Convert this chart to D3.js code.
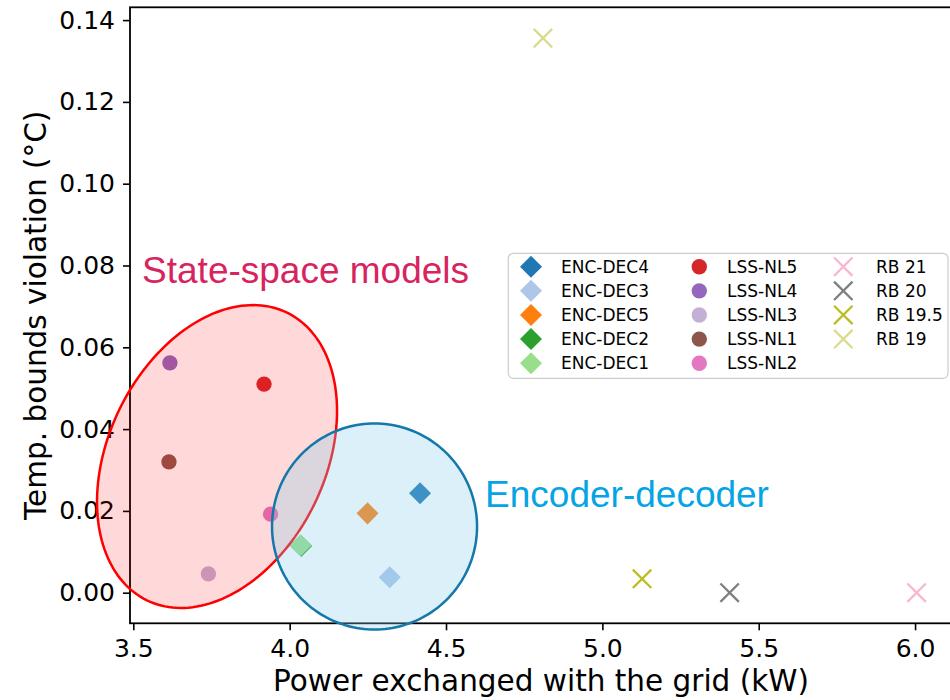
<!DOCTYPE html>
<html>
<head>
<meta charset="utf-8">
<script src="https://cdn.jsdelivr.net/npm/d3@7"></script>
<style>
  body { margin: 0; background: #fff; }
  svg { display: block; }
</style>
</head>
<body>
<div id="my_dataviz"></div>
<script>
// --- data ---
var encNames = ["ENC-DEC4", "ENC-DEC3", "ENC-DEC5", "ENC-DEC2", "ENC-DEC1"];
var encPower = [4.417, 4.320, 4.249, 4.037, 4.035];
var encViolation = [0.0243, 0.0038, 0.0194, 0.0114, 0.0116];

var lssNames = ["LSS-NL5", "LSS-NL4", "LSS-NL3", "LSS-NL1", "LSS-NL2"];
var lssPower = [3.918, 3.617, 3.740, 3.614, 3.939];
var lssViolation = [0.0510, 0.0562, 0.0046, 0.0320, 0.0192];

var rbNames = ["RB 21", "RB 20", "RB 19.5", "RB 19"];
var rbPower = [6.005, 5.407, 5.127, 4.810];
var rbViolation = [0.0000, 0.0000, 0.0034, 0.1356];

var xTicks = [3.5, 4.0, 4.5, 5.0, 5.5, 6.0];
var yTicks = [0.00, 0.02, 0.04, 0.06, 0.08, 0.10, 0.12, 0.14];

// colours (tab20)
var encColors = ["#1f77b4", "#aec7e8", "#ff7f0e", "#2ca02c", "#98df8a"];
var lssColors = ["#d62728", "#9467bd", "#c5b0d5", "#8c564b", "#e377c2"];
var rbColors = ["#f7b6d2", "#7f7f7f", "#bcbd22", "#dbdb8d"];

// group outlines (data units): centre + two semi-axis vectors
var ssmCenter = [3.7677, 0.0333], ssmU = [0.2242, 0.03516], ssmV = [-0.3115, 0.01161];
var edCenter = [4.2714, 0.01619], edU = [0.3278, 0], edV = [0, 0.02518];

var width = 950, height = 700;
var margin = {top: 7.3, left: 130, bottom: 623.3, right: 952};

var svg = d3.select("#my_dataviz").append("svg")
    .attr("width", width)
    .attr("height", height);

var x = d3.scaleLinear()
    .domain([3.4894, 6.1181])
    .range([margin.left, margin.right]);

var y = d3.scaleLinear()
    .domain([-0.00748, 0.14313])
    .range([margin.bottom, margin.top]);

var font = "DejaVu Sans, sans-serif";

// axes
var xAxis = svg.append("g")
    .attr("transform", `translate(0,${margin.bottom})`)
    .call(d3.axisBottom(x).tickValues(xTicks).tickFormat(d3.format(".1f")).tickSize(7).tickPadding(9));
var yAxis = svg.append("g")
    .attr("transform", `translate(${margin.left},0)`)
    .call(d3.axisLeft(y).tickValues(yTicks).tickFormat(d3.format(".2f")).tickSize(7).tickPadding(8));

[xAxis, yAxis].forEach(function(a) {
    a.select(".domain").remove();
    a.selectAll("line").attr("stroke", "#000").attr("stroke-width", 1.6);
    a.selectAll("text").attr("font-family", font).attr("font-size", "25px").attr("fill", "#000");
});

svg.append("rect")
    .attr("x", margin.left)
    .attr("y", margin.top)
    .attr("width", margin.right - margin.left)
    .attr("height", margin.bottom - margin.top)
    .attr("fill", "none")
    .attr("stroke", "#000")
    .attr("stroke-width", 1.8);

svg.append("text")
    .attr("x", (margin.left + margin.right) / 2)
    .attr("y", 690.7)
    .attr("text-anchor", "middle")
    .attr("font-family", font)
    .attr("font-size", "29.5px")
    .text("Power exchanged with the grid (kW)");

svg.append("text")
    .attr("transform", `translate(46,${(margin.top + margin.bottom) / 2}) rotate(-90)`)
    .attr("text-anchor", "middle")
    .attr("font-family", font)
    .attr("font-size", "29.5px")
    .text("Temp. bounds violation (°C)");

// markers
var crossType = {
    draw: function(context, size) {
        var r = Math.sqrt(size) * 0.6189;
        context.moveTo(-r, -r); context.lineTo(r, r);
        context.moveTo(-r, r); context.lineTo(r, -r);
    }
};
var diamond = d3.symbol().type(d3.symbolSquare).size(243);
var dot = d3.symbol().type(d3.symbolCircle).size(186);
var cross = d3.symbol().type(crossType).size(222);

var pts = svg.append("g");

pts.selectAll(".enc")
    .data(encNames)
    .join("path")
    .attr("class", "enc")
    .attr("d", diamond)
    .attr("fill", function(d, i) { return encColors[i]; })
    .attr("transform", function(d, i) { return `translate(${x(encPower[i])},${y(encViolation[i])}) rotate(45)`; });

pts.selectAll(".lss")
    .data(lssNames)
    .join("path")
    .attr("class", "lss")
    .attr("d", dot)
    .attr("fill", function(d, i) { return lssColors[i]; })
    .attr("transform", function(d, i) { return `translate(${x(lssPower[i])},${y(lssViolation[i])})`; });

pts.selectAll(".rb")
    .data(rbNames)
    .join("path")
    .attr("class", "rb")
    .attr("d", cross)
    .attr("fill", "none")
    .attr("stroke", function(d, i) { return rbColors[i]; })
    .attr("stroke-width", 2.3)
    .attr("transform", function(d, i) { return `translate(${x(rbPower[i])},${y(rbViolation[i])})`; });

// legend
var legend = svg.append("g");
legend.append("rect")
    .attr("x", 508.3).attr("y", 253.3)
    .attr("width", 439.7).attr("height", 125)
    .attr("rx", 5)
    .attr("fill", "#fff").attr("fill-opacity", 0.8)
    .attr("stroke", "#cccccc").attr("stroke-width", 1.2);

var legendCols = [
    {names: encNames, colors: encColors, shape: diamond, rot: 45, filled: true, mx: 531, tx: 561},
    {names: lssNames, colors: lssColors, shape: dot, rot: 0, filled: true, mx: 699.3, tx: 727},
    {names: rbNames, colors: rbColors, shape: cross, rot: 0, filled: false, mx: 843.3, tx: 876}
];
var rowY = d3.scaleLinear().domain([0, 4]).range([266.7, 363.2]);

legendCols.forEach(function(col) {
    var g = legend.append("g");
    g.selectAll("path")
        .data(col.names)
        .join("path")
        .attr("d", col.shape)
        .attr("fill", function(d, i) { return col.filled ? col.colors[i] : "none"; })
        .attr("stroke", function(d, i) { return col.filled ? "none" : col.colors[i]; })
        .attr("stroke-width", 2.3)
        .attr("transform", function(d, i) { return `translate(${col.mx},${rowY(i)}) rotate(${col.rot})`; });
    g.selectAll("text")
        .data(col.names)
        .join("text")
        .attr("x", col.tx)
        .attr("y", function(d, i) { return rowY(i) + 6.2; })
        .attr("font-family", font)
        .attr("font-size", "17px")
        .text(function(d) { return d; });
});

// group outlines drawn on top
function ellipsePath(c, u, v) {
    var pts = d3.range(0, 181).map(function(k) {
        var t = k / 180 * 2 * Math.PI;
        return [x(c[0] + u[0] * Math.cos(t) + v[0] * Math.sin(t)),
                y(c[1] + u[1] * Math.cos(t) + v[1] * Math.sin(t))];
    });
    return d3.line()(pts) + "Z";
}

svg.append("path")
    .attr("d", ellipsePath(ssmCenter, ssmU, ssmV))
    .attr("fill", "rgba(255,0,0,0.15)")
    .attr("stroke", "#ff0000")
    .attr("stroke-width", 2.5);

svg.append("path")
    .attr("d", ellipsePath(edCenter, edU, edV))
    .attr("fill", "rgba(135,206,235,0.3)")
    .attr("stroke", "#1478aa")
    .attr("stroke-width", 2.5);

svg.append("text")
    .attr("x", x(3.528))
    .attr("y", y(0.0757))
    .attr("font-family", "Liberation Sans, Arial, sans-serif")
    .attr("font-size", "37px")
    .attr("fill", "#d7245e")
    .text("State-space models");

svg.append("text")
    .attr("x", x(4.625))
    .attr("y", y(0.0210))
    .attr("font-family", "Liberation Sans, Arial, sans-serif")
    .attr("font-size", "37px")
    .attr("fill", "#05a4e4")
    .text("Encoder-decoder");
</script>
</body>
</html>
